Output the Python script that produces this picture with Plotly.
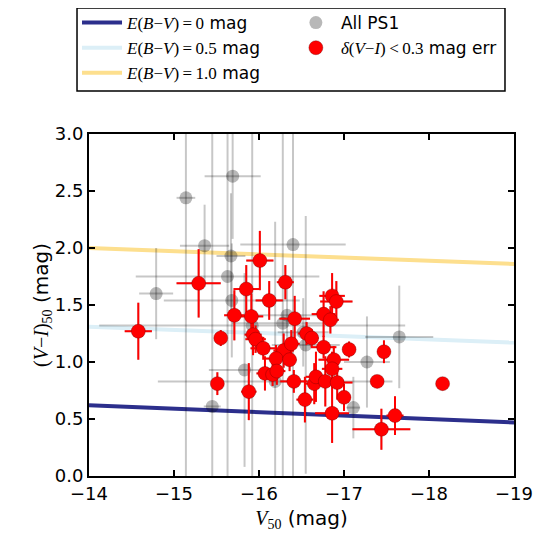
import plotly.graph_objects as go

# ---- Data ----
# reddening lines: V range and (V-I) at the two ends
line_v = [-14.0, -19.0]
ebv0_vi = [0.62, 0.47]
ebv05_vi = [1.31, 1.17]
ebv10_vi = [2.00, 1.86]

# points with delta(V-I) < 0.3 mag err
red_v = [-14.58, -15.29, -16.01, -15.85, -16.31, -16.12, -15.55, -15.71, -15.91, -16.42,
         -15.93, -15.96, -16.05, -16.29, -16.38, -16.20, -16.36, -16.07, -16.16, -16.21,
         -16.41, -15.51, -15.88, -16.54, -16.65, -16.56, -16.62, -16.86, -16.91, -16.76,
         -16.84, -16.76, -17.06, -17.47, -16.88, -16.86, -16.67, -16.78, -16.92, -17.39,
         -18.16, -17.00, -16.86, -17.44, -17.60]
red_vi = [1.27, 1.69, 1.89, 1.64, 1.70, 1.54, 1.21, 1.41, 1.40, 1.38,
          1.24, 1.20, 1.12, 1.10, 1.16, 1.03, 1.02, 0.90, 0.89, 0.92,
          0.83, 0.81, 0.74, 0.67, 0.81, 1.25, 1.21, 1.58, 1.53, 1.42,
          1.37, 1.13, 1.11, 1.09, 1.02, 0.94, 0.87, 0.83, 0.82, 0.83,
          0.81, 0.69, 0.55, 0.41, 0.53]
red_verr = [0.16, 0.26, 0.16, 0.15, 0.10, 0.16, 0.03, 0.12, 0.14, 0.18,
            0.10, 0.12, 0.15, 0.12, 0.10, 0.14, 0.08, 0.10, 0.12, 0.10,
            0.16, 0.03, 0.09, 0.10, 0.12, 0.10, 0.08, 0.15, 0.19, 0.14,
            0.10, 0.15, 0.03, 0.03, 0.18, 0.12, 0.12, 0.12, 0.18, 0.00,
            0.00, 0.06, 0.20, 0.34, 0.10]
red_vierr = [0.25, 0.30, 0.26, 0.21, 0.15, 0.17, 0.07, 0.22, 0.20, 0.20,
             0.18, 0.12, 0.10, 0.15, 0.12, 0.12, 0.10, 0.15, 0.10, 0.12,
             0.10, 0.10, 0.25, 0.20, 0.18, 0.10, 0.08, 0.20, 0.18, 0.20,
             0.12, 0.10, 0.07, 0.10, 0.12, 0.15, 0.22, 0.22, 0.15, 0.00,
             0.00, 0.12, 0.26, 0.18, 0.17]

# remaining PS1 objects (not in red subset)
gray_v = [-15.69, -15.14, -15.36, -16.40, -15.67, -15.63, -14.79, -15.68, -16.33, -16.28,
          -15.92, -16.52, -16.55, -15.83, -16.19, -15.45, -17.65, -17.27, -17.11]
gray_vi = [2.63, 2.44, 2.02, 2.03, 1.93, 1.75, 1.60, 1.54, 1.41, 1.34,
           1.32, 1.26, 1.15, 0.93, 0.83, 0.61, 1.22, 1.00, 0.60]
gray_verr = [0.33, 0.11, 0.29, 0.62, 0.17, 1.08, 0.20, 0.80, 0.35, 0.60,
             1.80, 0.30, 0.40, 0.42, 1.38, 0.10, 0.40, 0.27, 0.08]
gray_vierr = [0.55, 2.50, 0.36, 2.50, 0.55, 2.50, 0.40, 0.50, 0.30, 2.50,
              2.50, 0.30, 1.13, 0.85, 1.40, 2.50, 0.45, 0.40, 0.27]

x_ticks = [-14, -15, -16, -17, -18, -19]
y_ticks = [0.0, 0.5, 1.0, 1.5, 2.0, 2.5, 3.0]

# All PS1 = gray-only objects + red subset
all_v = gray_v + red_v
all_vi = gray_vi + red_vi
all_verr = gray_verr + red_verr
all_vierr = gray_vierr + red_vierr

SERIF = "Liberation Serif"
def mt(s):
    return f"<span style='font-family:{SERIF}'>{s}</span>"

EQ = "\u2009=\u2009"

fig = go.Figure()

line_w = 4
fig.add_trace(go.Scatter(x=line_v, y=ebv0_vi, mode="lines",
                         line=dict(color="#2c2f8c", width=line_w), legend="legend",
                         name=mt("<i>E</i>(<i>B</i>−<i>V</i>)" + EQ + "0") + " mag"))
fig.add_trace(go.Scatter(x=line_v, y=ebv05_vi, mode="lines",
                         line=dict(color="#dcefF7", width=line_w), legend="legend",
                         name=mt("<i>E</i>(<i>B</i>−<i>V</i>)" + EQ + "0.5") + " mag"))
fig.add_trace(go.Scatter(x=line_v, y=ebv10_vi, mode="lines",
                         line=dict(color="#fddf8e", width=line_w), legend="legend",
                         name=mt("<i>E</i>(<i>B</i>−<i>V</i>)" + EQ + "1.0") + " mag"))

fig.add_trace(go.Scatter(
    x=all_v, y=all_vi, mode="markers", legend="legend2",
    marker=dict(size=13, color="rgba(0,0,0,0.28)", line=dict(width=0)),
    error_x=dict(type="data", array=all_verr, color="rgba(0,0,0,0.22)", thickness=2, width=0),
    error_y=dict(type="data", array=all_vierr, color="rgba(0,0,0,0.22)", thickness=2, width=0),
    name="All PS1"))

fig.add_trace(go.Scatter(
    x=red_v, y=red_vi, mode="markers", legend="legend2",
    marker=dict(size=14, color="#ff0000", line=dict(width=0.6, color="rgba(110,0,0,0.6)")),
    error_x=dict(type="data", array=red_verr, color="#ff0000", thickness=2, width=0),
    error_y=dict(type="data", array=red_vierr, color="#ff0000", thickness=2, width=0),
    name=mt("<i>δ</i>(<i>V</i>−<i>I</i>)\u2009<\u20090.3") + " mag err"))

axis_common = dict(showline=True, linecolor="black", linewidth=2, mirror="allticks",
                   ticks="inside", ticklen=6, tickwidth=1.5, tickcolor="black",
                   showgrid=False, zeroline=False, automargin=False,
                   tickfont=dict(family="DejaVu Sans", size=18, color="black"))

fig.update_xaxes(range=[-14, -19], tickvals=x_ticks, ticktext=[f"−{abs(t)}" for t in x_ticks],
                 title=dict(text=mt("<i>V</i><sub>50</sub>") + " (mag)",
                            font=dict(family="DejaVu Sans", size=20, color="black"), standoff=8),
                 **axis_common)
fig.update_yaxes(range=[0, 3], tickvals=y_ticks, ticktext=[f"{t:.1f}" for t in y_ticks],
                 title=dict(text=mt("(<i>V</i>−<i>I</i>)<sub>50</sub>") + " (mag)",
                            font=dict(family="DejaVu Sans", size=20, color="black"), standoff=0),
                 **axis_common)

leg_font = dict(family="DejaVu Sans", size=17, color="black")
leg_common = dict(orientation="v", yanchor="top", xanchor="left", y=1.377,
                  borderwidth=0, bgcolor="rgba(0,0,0,0)", font=leg_font,
                  itemwidth=40, traceorder="normal", tracegroupgap=0)

# page body has an 8px margin, so the figure is 8px smaller and its margins 8px less
fig.update_layout(
    width=538, height=532,
    margin=dict(l=81, r=32, t=126, b=64, autoexpand=False),
    plot_bgcolor="white", paper_bgcolor="white",
    font=dict(family="DejaVu Sans", color="black"),
    showlegend=True,
    legend=dict(x=-0.0282, **leg_common),
    legend2=dict(x=0.475, **leg_common),
    shapes=[dict(type="rect", xref="paper", yref="paper",
                 x0=-0.0282, x1=0.9788, y0=1.1257, y1=1.3684,
                 line=dict(color="black", width=1.5), fillcolor="white", layer="below")],
)

fig.write_html("out.html")
